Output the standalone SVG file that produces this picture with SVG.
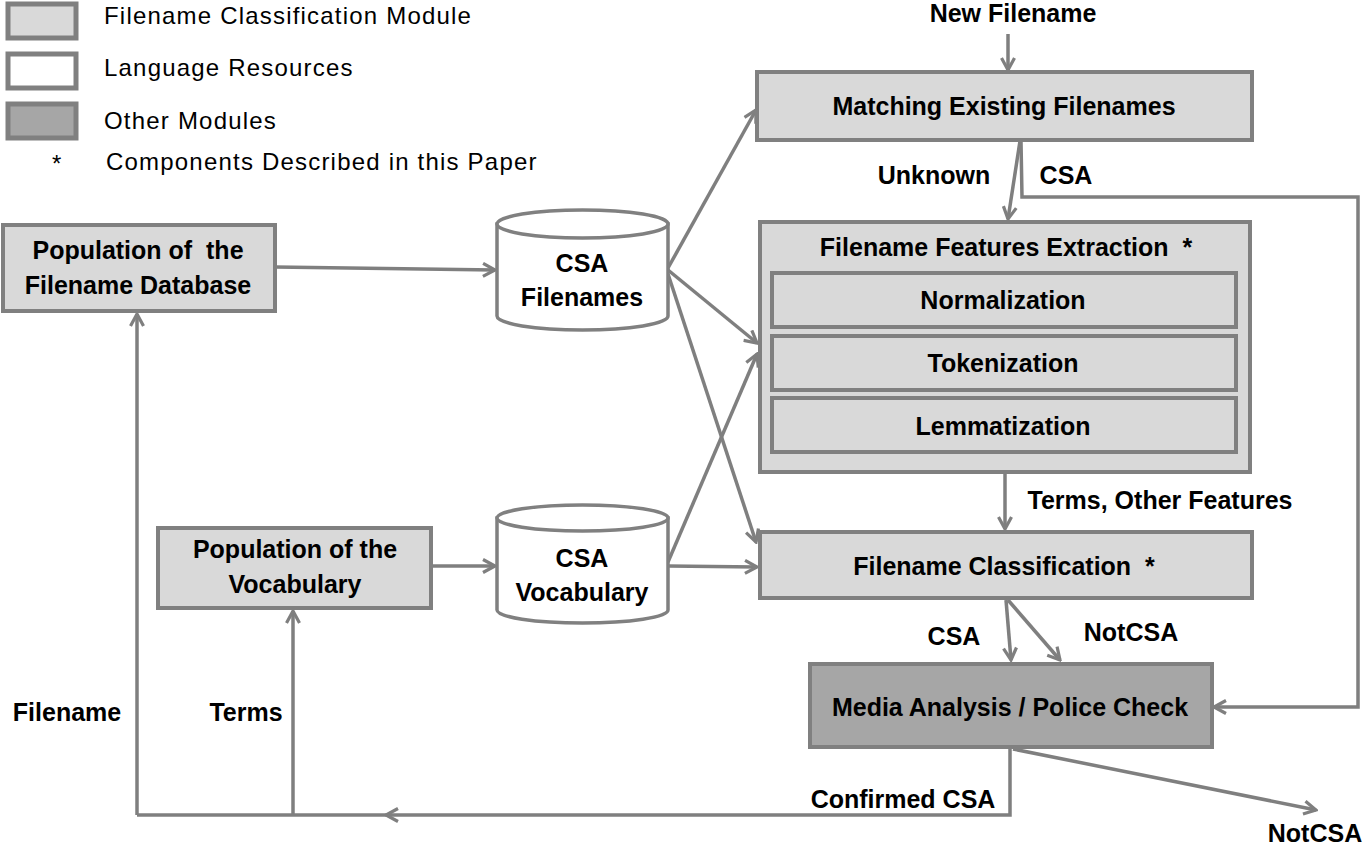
<svg xmlns="http://www.w3.org/2000/svg" width="1363" height="846" viewBox="0 0 1363 846">
<defs>
<marker id="arr" markerUnits="userSpaceOnUse" viewBox="0 0 16 16" refX="14" refY="8" markerWidth="16" markerHeight="16" orient="auto">
<path d="M2,1.5 L14,8 L2,14.5" fill="none" stroke="#7f7f7f" stroke-width="3.2" stroke-linejoin="miter"/>
</marker>
</defs>
<style>
.lg{fill:#d9d9d9;stroke:#808080;stroke-width:4}
.wt{fill:#ffffff;stroke:#808080;stroke-width:4}
.dk{fill:#a6a6a6;stroke:#808080;stroke-width:4}
.sw{stroke-width:5}
.cyl{fill:#ffffff;stroke:#808080;stroke-width:3.5}
.ln{fill:none;stroke:#7f7f7f;stroke-width:3.5}
.ar{fill:none;stroke:#7f7f7f;stroke-width:3.5;marker-end:url(#arr)}
.t{font-family:"Liberation Sans",Arial,sans-serif;font-weight:bold;font-size:25px;fill:#000;text-anchor:middle}
.lt{font-family:"Liberation Sans",Arial,sans-serif;font-size:24px;letter-spacing:1.2px;fill:#000}
</style>
<rect width="1363" height="846" fill="#ffffff"/>

<g id="legend">
<rect class="lg sw" x="8" y="4" width="68" height="34"/>
<rect class="wt sw" x="8" y="54" width="68" height="34"/>
<rect class="dk sw" x="8" y="104" width="68" height="34"/>
<text class="lt" x="104" y="24">Filename Classification Module</text>
<text class="lt" x="104" y="76">Language Resources</text>
<text class="lt" x="104" y="129">Other Modules</text>
<text class="lt" x="52" y="172">*</text>
<text class="lt" x="106" y="170">Components Described in this Paper</text>
</g>

<g id="connectors">
<path class="ar" d="M1008,34 L1008,70"/>
<path class="ar" d="M1020,141 L1008,219"/>
<path class="ar" d="M1021,141 L1022,197 L1358,197 L1358,707 L1214,707"/>
<path class="ar" d="M1005,474 L1005,529"/>
<path class="ar" d="M1006,600 L1011,660"/>
<path class="ar" d="M1008,600 L1060,660"/>
<path class="ar" d="M1010,748 L1010,815 L386,815"/>
<path class="ln" d="M386,815 L137,815"/>
<path class="ar" d="M137,815 L137,314"/>
<path class="ar" d="M293,815 L293,611"/>
<path class="ar" d="M1013,749 L1316,810"/>
<path class="ar" d="M275,267 L495,270"/>
<path class="ar" d="M431,566 L495,566"/>
<path class="ar" d="M668,268 L756,110"/>
<path class="ar" d="M668,270 L757,343"/>
<path class="ar" d="M668,274 L756,542"/>
<path class="ar" d="M668,562 L757,354"/>
<path class="ar" d="M668,566 L757,567"/>
</g>

<g id="n-new-filename">
<text class="t" x="1013" y="22">New Filename</text>
</g>

<g id="n-matching">
<rect class="lg" x="757" y="72" width="495" height="68"/>
<text class="t" x="1004" y="115">Matching Existing Filenames</text>
</g>

<g id="edge-labels">
<text class="t" x="934" y="184">Unknown</text>
<text class="t" x="1066" y="184">CSA</text>
<text class="t" x="1160" y="509">Terms, Other Features</text>
<text class="t" x="954" y="645">CSA</text>
<text class="t" x="1131" y="641">NotCSA</text>
<text class="t" x="903" y="808">Confirmed CSA</text>
<text class="t" x="1315" y="842">NotCSA</text>
<text class="t" x="67" y="721">Filename</text>
<text class="t" x="246" y="721">Terms</text>
</g>

<g id="n-features">
<rect class="lg" x="760" y="222" width="490" height="250"/>
<text class="t" x="1006" y="256">Filename Features Extraction&#160; *</text>
</g>
<g id="n-normalization">
<rect class="lg" x="772" y="273" width="464" height="54"/>
<text class="t" x="1003" y="309">Normalization</text>
</g>
<g id="n-tokenization">
<rect class="lg" x="772" y="336" width="464" height="54"/>
<text class="t" x="1003" y="372">Tokenization</text>
</g>
<g id="n-lemmatization">
<rect class="lg" x="772" y="398" width="464" height="54"/>
<text class="t" x="1003" y="435">Lemmatization</text>
</g>

<g id="n-classification">
<rect class="lg" x="760" y="532" width="492" height="66"/>
<text class="t" x="1004" y="575">Filename Classification&#160; *</text>
</g>

<g id="n-media">
<rect class="dk" x="810" y="664" width="402" height="83"/>
<text class="t" x="1010" y="716">Media Analysis / Police Check</text>
</g>

<g id="n-pop-db">
<rect class="lg" x="3" y="225" width="272" height="86"/>
<text class="t" x="138" y="259">Population of&#160; the</text>
<text class="t" x="138" y="294">Filename Database</text>
</g>

<g id="n-csa-filenames">
<path class="cyl" d="M497,224 L497,316 A85.5,14 0 0 0 668,316 L668,224 Z"/>
<ellipse class="cyl" cx="582.5" cy="224" rx="85.5" ry="14"/>
<text class="t" x="582" y="272">CSA</text>
<text class="t" x="582" y="306">Filenames</text>
</g>

<g id="n-pop-vocab">
<rect class="lg" x="158" y="528" width="273" height="80"/>
<text class="t" x="295" y="558">Population of the</text>
<text class="t" x="295" y="593">Vocabulary</text>
</g>

<g id="n-csa-vocab">
<path class="cyl" d="M497,518 L497,610 A85.5,13 0 0 0 668,610 L668,518 Z"/>
<ellipse class="cyl" cx="582.5" cy="518" rx="85.5" ry="13"/>
<text class="t" x="582" y="567">CSA</text>
<text class="t" x="582" y="601">Vocabulary</text>
</g>
</svg>
